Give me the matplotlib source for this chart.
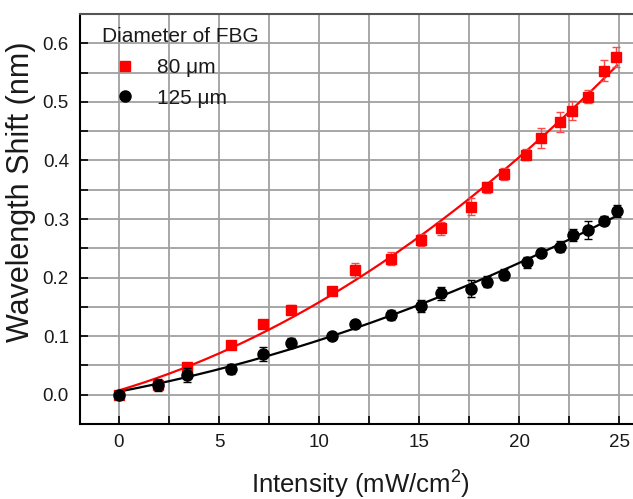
import numpy as np
import matplotlib
matplotlib.use("Agg")
import matplotlib.pyplot as plt
from matplotlib.ticker import MultipleLocator, FormatStrFormatter
from matplotlib.lines import Line2D

plt.rcParams['font.family'] = ['Liberation Sans', 'DejaVu Sans']
plt.rcParams['mathtext.fontset'] = 'custom'
plt.rcParams['mathtext.rm'] = 'Liberation Sans'

# Data: 80 um FBG (red squares)
x80 = [0.0, 1.93, 3.42, 5.6, 7.18, 8.6, 10.65, 11.8, 13.58, 15.08, 16.1, 17.6,
       18.38, 19.25, 20.35, 21.08, 22.05, 22.67, 23.47, 24.25, 24.87]
y80 = [0.0, 0.017, 0.047, 0.085, 0.121, 0.145, 0.177, 0.213, 0.232, 0.264, 0.284, 0.321,
       0.354, 0.377, 0.410, 0.438, 0.465, 0.485, 0.509, 0.553, 0.577]
e80 = [0.005, 0.008, 0.006, 0.007, 0.006, 0.008, 0.007, 0.012, 0.011, 0.010, 0.011, 0.015,
       0.010, 0.010, 0.010, 0.017, 0.017, 0.016, 0.011, 0.018, 0.017]

# Data: 125 um FBG (black circles)
x125 = [0.0, 1.93, 3.42, 5.6, 7.18, 8.6, 10.63, 11.8, 13.58, 15.08, 16.1, 17.6,
        18.38, 19.27, 20.38, 21.08, 22.05, 22.68, 23.47, 24.25, 24.88]
y125 = [0.0, 0.017, 0.033, 0.044, 0.069, 0.089, 0.100, 0.120, 0.136, 0.152, 0.173, 0.181,
        0.193, 0.205, 0.226, 0.242, 0.253, 0.273, 0.281, 0.297, 0.314]
e125 = [0.004, 0.010, 0.012, 0.008, 0.012, 0.008, 0.005, 0.005, 0.008, 0.010, 0.011, 0.015,
        0.009, 0.009, 0.009, 0.006, 0.010, 0.010, 0.015, 0.008, 0.010]

legend_title = "Diameter of FBG"
labels = ["80 \u03bcm", "125 \u03bcm"]
xlabel = "Intensity (mW/cm$^{2}$)"
ylabel = "Wavelength Shift (nm)"

RED = '#ff0000'

fig = plt.figure(figsize=(6.33, 4.99), dpi=100)
ax = fig.add_axes([80/633, 1-424/499, 1-80/633, (424-14)/499])

# quadratic fits
xf = np.linspace(0, 24.9, 200)
p80 = np.polyfit(x80, y80, 2)
p125 = np.polyfit(x125, y125, 2)
ax.plot(xf, np.polyval(p80, xf), color=RED, lw=1.6, zorder=3)
ax.plot(xf, np.polyval(p125, xf), color='black', lw=1.6, zorder=3)

ax.errorbar(x80, y80, yerr=e80, fmt='s', color=RED, ms=7, capsize=3,
            elinewidth=1, capthick=1, ecolor='#ff4848', zorder=4)
ax.errorbar(x125, y125, yerr=e125, fmt='o', color='black', ms=8, capsize=3,
            elinewidth=1, capthick=1, ecolor='black', zorder=5)

ax.set_xlim(-1.95, 25.7)
ax.set_ylim(-0.05, 0.65)
ax.xaxis.set_major_locator(MultipleLocator(5))
ax.xaxis.set_minor_locator(MultipleLocator(2.5))
ax.yaxis.set_major_locator(MultipleLocator(0.1))
ax.yaxis.set_minor_locator(MultipleLocator(0.05))
ax.yaxis.set_major_formatter(FormatStrFormatter('%.1f'))

ax.grid(True, which='both', color='#a0a0a0', lw=1.3, zorder=0)
ax.set_axisbelow(True)

ax.tick_params(which='both', direction='in', labelsize=13.5, labelcolor='#1a1a1a',
               color='black', top=False, right=False, length=5.5, width=1.2)
ax.tick_params(axis='x', which='major', pad=7)
ax.tick_params(axis='y', which='major', pad=8)

for s in ['left', 'bottom']:
    ax.spines[s].set_linewidth(1.5)
    ax.spines[s].set_color('black')
ax.spines['top'].set_linewidth(1.5)
ax.spines['top'].set_color('#555555')
ax.spines['right'].set_visible(False)

fig.text(360/633, 1-493/499, xlabel, fontsize=18.5, ha='center', va='baseline',
         color='#1a1a1a')
fig.text(21/633, 1-192/499, ylabel, fontsize=22, ha='center', va='center',
         rotation=90, color='#1a1a1a')

handles = [Line2D([], [], ls='none', marker='s', color=RED, ms=7),
           Line2D([], [], ls='none', marker='o', color='black', ms=8)]
leg = ax.legend(handles, labels, title=legend_title, loc='upper left', frameon=False,
                fontsize=15, title_fontsize=15,
                bbox_to_anchor=((102-80)/553, (424-27)/410),
                borderpad=0, borderaxespad=0, handlelength=2.2,
                handletextpad=0.45, labelspacing=0.57)
leg._legend_box.align = "left"
for t in leg.get_texts():
    t.set_color('#1a1a1a')
leg.get_title().set_color('#1a1a1a')

fig.savefig("out.png", dpi=100)
